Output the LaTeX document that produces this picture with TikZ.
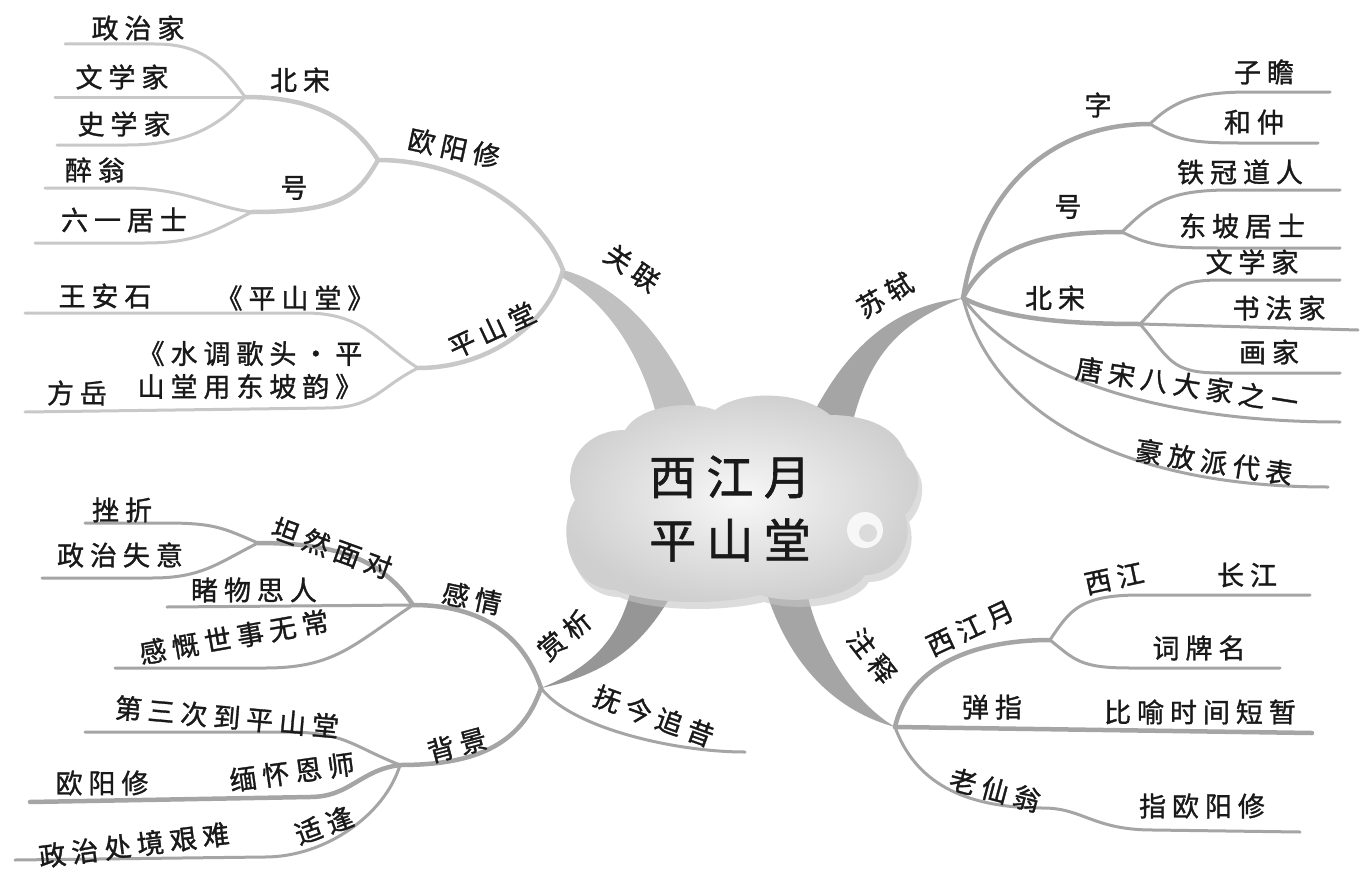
\documentclass[tikz,border=0pt]{standalone}
\usepackage{fontspec}
\newfontfamily\cjk[LetterSpace=22,FakeBold=1.2]{Noto Sans CJK SC}
\definecolor{lgray}{RGB}{200,200,200}
\definecolor{mgray}{RGB}{165,165,165}
\definecolor{tgray}{RGB}{192,192,192}
\definecolor{dgray}{RGB}{150,150,150}
\definecolor{ink}{RGB}{25,25,25}
\begin{document}
\begin{tikzpicture}[x=1pt,y=-1pt,
 lbl/.style={font=\cjk\fontsize{27}{33}\selectfont,text=ink,inner sep=0pt,align=center},
 big/.style={font=\cjk\fontsize{47}{52}\selectfont,text=ink,inner sep=0pt},
 leafL/.style={draw=lgray,line width=3pt,line cap=round},
 branchL/.style={draw=lgray,line width=4.5pt,line cap=round},
 leafM/.style={draw=mgray,line width=3pt,line cap=round},
 branchM/.style={draw=mgray,line width=4.5pt,line cap=round}]
\useasboundingbox (0,0) rectangle (1363,875);
\fill[white] (0,0) rectangle (1363,875);

% ---------- junctions ----------
\coordinate (jBS) at (245,97);
\coordinate (jHao) at (252,212);
\coordinate (jOY) at (378,160);
\coordinate (jGL) at (563,270);
\coordinate (jPS) at (418,368);
\coordinate (jSS) at (963,298);
\coordinate (jZi) at (1150,124);
\coordinate (jHao2) at (1122,232);
\coordinate (jBS2) at (1140,324);
\coordinate (jSX) at (541,688);
\coordinate (jGQ) at (413,605);
\coordinate (jTR) at (258,543);
\coordinate (jBJ) at (400,765);
\coordinate (jZS) at (895,727);
\coordinate (jXJY) at (1050,640);

% ---------- leaf ends ----------
\coordinate (eZZJ) at (65,44);
\coordinate (eWXJ) at (55,97);
\coordinate (eSXJ) at (57,145);
\coordinate (eZW) at (45,188);
\coordinate (eLY) at (35,243);
\coordinate (eWAS) at (25,313);
\coordinate (eFY) at (25,412);
\coordinate (eZZ) at (1330,92);
\coordinate (eHZ) at (1318,143);
\coordinate (eTG) at (1340,190);
\coordinate (eDP) at (1340,248);
\coordinate (eWX2) at (1340,280);
\coordinate (eSF) at (1358,330);
\coordinate (eHJ) at (1340,373);
\coordinate (eTS) at (1340,422);
\coordinate (eHF) at (1328,487);
\coordinate (eCZ) at (85,523);
\coordinate (eZZSY) at (42,578);
\coordinate (eDW) at (167,607);
\coordinate (eGK) at (115,668);
\coordinate (eFJ) at (745,752);
\coordinate (eDS) at (85,732);
\coordinate (eOY2) at (30,802);
\coordinate (eZZCJ) at (15,860);
\coordinate (eCJ) at (1310,595);
\coordinate (eCPM) at (1280,668);
\coordinate (eBZ) at (1312,733);
\coordinate (eZOY) at (1300,832);

% ---------- trunks ----------
\fill[tgray] (jGL) .. controls (620,285) and (672,340) .. (705,428)
  -- (660,430) .. controls (645,360) and (610,305) .. (563,278) -- cycle;
\fill[mgray] (810,420) .. controls (850,340) and (900,305) .. (jSS)
  .. controls (905,320) and (870,350) .. (852,425) -- cycle;
\fill[dgray] (632,585) .. controls (620,640) and (590,668) .. (jSX)
  .. controls (600,676) and (642,650) .. (674,590) -- cycle;
\fill[mgray] (765,588) .. controls (790,670) and (840,712) .. (jZS)
  .. controls (850,700) and (815,640) .. (805,583) -- cycle;

% ---------- top-left (关联) ----------
\draw[leafL] (eZZJ) -- ++(90,0) .. controls +(45,0) and +(-25,-35) .. (jBS);
\draw[leafL] (eWXJ) -- (jBS);
\draw[leafL] (eSXJ) -- ++(70,0) .. controls +(50,0) and +(-30,35) .. (jBS);
\draw[branchL] (jBS) .. controls +(70,0) and +(-25,-40) .. (jOY);
\draw[leafL] (eZW) -- ++(80,0) .. controls +(60,0) and +(-40,-5) .. (jHao);
\draw[leafL] (eLY) -- ++(110,0) .. controls +(50,0) and +(-40,20) .. (jHao);
\draw[branchL] (jHao) .. controls +(90,0) and +(-20,35) .. (jOY);
\draw[branchL] (jOY) .. controls +(90,0) and +(-20,-55) .. (jGL);
\draw[branchL] (jGL) .. controls +(-15,55) and +(70,0) .. (jPS);
\draw[leafL] (eWAS) -- ++(280,0) .. controls +(60,0) and +(-40,-25) .. (jPS);
\draw[leafL] (eFY) -- ++(300,-4) .. controls +(50,0) and +(-40,20) .. (jPS);

% ---------- top-right (苏轼) ----------
\draw[branchM] (jSS) .. controls +(20,-120) and +(-90,0) .. (jZi);
\draw[leafM] (eZZ) -- ++(-80,0) .. controls +(-50,0) and +(25,-25) .. (jZi);
\draw[leafM] (eHZ) -- ++(-80,0) .. controls +(-50,0) and +(25,15) .. (jZi);
\draw[branchM] (jSS) .. controls +(30,-60) and +(-60,0) .. (jHao2);
\draw[leafM] (eTG) -- ++(-110,0) .. controls +(-60,0) and +(30,-30) .. (jHao2);
\draw[leafM] (eDP) -- ++(-120,0) .. controls +(-50,0) and +(30,15) .. (jHao2);
\draw[branchM] (jSS) .. controls +(40,20) and +(-80,0) .. (jBS2);
\draw[leafM] (eWX2) -- ++(-120,0) .. controls +(-50,0) and +(30,-30) .. (jBS2);
\draw[leafM] (eSF) -- (jBS2);
\draw[leafM] (eHJ) -- ++(-120,0) .. controls +(-50,0) and +(30,35) .. (jBS2);
\draw[leafM] (jSS) .. controls +(50,70) and +(-200,0) .. (eTS);
\draw[leafM] (jSS) .. controls +(30,120) and +(-200,0) .. (eHF);

% ---------- bottom-left (赏析) ----------
\draw[branchM] (jSX) .. controls +(-20,-60) and +(60,0) .. (jGQ);
\draw[leafM] (eDW) -- (jGQ);
\draw[branchM] (jGQ) .. controls +(-30,-45) and +(80,0) .. (jTR);
\draw[leafM] (eCZ) -- ++(80,0) .. controls +(50,0) and +(-35,-15) .. (jTR);
\draw[leafM] (eZZSY) -- ++(110,0) .. controls +(50,0) and +(-40,20) .. (jTR);
\draw[leafM] (eGK) -- ++(150,0) .. controls +(70,0) and +(-60,40) .. (jGQ);
\draw[leafM] (jSX) .. controls +(30,40) and +(-70,0) .. (eFJ);
\draw[branchM] (jSX) .. controls +(-20,60) and +(70,0) .. (jBJ);
\draw[leafM] (eDS) -- ++(200,0) .. controls +(60,0) and +(-50,-20) .. (jBJ);
\draw[branchM] (eOY2) -- ++(280,-5) .. controls +(40,0) and +(-40,5) .. (jBJ);
\draw[leafM] (eZZCJ) -- ++(250,-3) .. controls +(60,0) and +(-15,50) .. (jBJ);

% ---------- bottom-right (注释) ----------
\draw[branchM] (jZS) .. controls +(15,-65) and +(-70,0) .. (jXJY);
\draw[leafM] (eCJ) -- ++(-170,0) .. controls +(-60,0) and +(20,-30) .. (jXJY);
\draw[leafM] (eCPM) -- ++(-150,0) .. controls +(-50,0) and +(25,20) .. (jXJY);
\draw[branchM] (jZS) -- (eBZ);
\draw[leafM] (jZS) .. controls +(20,55) and +(-80,0) .. ++(148,81)
  .. controls +(40,0) and +(-60,0) .. ++(110,22) -- (eZOY);

% ---------- cloud ----------
\fill[gray!45,opacity=0.6] (619,597) .. controls (574,597) and (559,537) .. (579,507)
  .. controls (564,477) and (584,437) .. (629,437)
  .. controls (644,412) and (694,407) .. (719,417)
  .. controls (744,397) and (804,397) .. (834,422)
  .. controls (874,422) and (904,437) .. (909,462)
  .. controls (929,477) and (924,507) .. (909,522)
  .. controls (919,552) and (899,582) .. (869,582)
  .. controls (854,607) and (794,612) .. (764,602)
  .. controls (724,612) and (654,612) .. (619,597) -- cycle;
\shade[inner color=gray!6, outer color=gray!38] (615,590) .. controls (570,590) and (555,530) .. (575,500)
  .. controls (560,470) and (580,430) .. (625,430)
  .. controls (640,405) and (690,400) .. (715,410)
  .. controls (740,390) and (800,390) .. (830,415)
  .. controls (870,415) and (900,430) .. (905,455)
  .. controls (925,470) and (920,500) .. (905,515)
  .. controls (915,545) and (895,575) .. (865,575)
  .. controls (850,600) and (790,605) .. (760,595)
  .. controls (720,605) and (650,605) .. (615,590) -- cycle;
\fill[white!94!gray] (865,530) circle (18);
\fill[gray!28] (868,533) circle (9);

\node[big] (c1) at (730,477) {西江月};
\node[big] (c2) at (730,540) {平山堂};

% ---------- labels top-left ----------
\node[lbl] (tZZJ) at (138,28) {政治家};
\node[lbl] (tWXJ) at (122,77) {文学家};
\node[lbl] (tSXJ) at (124,124) {史学家};
\node[lbl] (tBS) at (300,80) {北宋};
\node[lbl] (tZW) at (95,170) {醉翁};
\node[lbl] (tHao) at (294,188) {号};
\node[lbl] (tLY) at (124,220) {六一居士};
\node[lbl,rotate=-12] (tOY) at (454,148) {欧阳修};
\node[lbl,rotate=-35] (tGL) at (632,268) {关联};
\node[lbl] (tWAS) at (105,296) {王安石};
\node[lbl] (tPSTb) at (295,298) {《平山堂》};
\node[lbl,rotate=25] (tPST) at (492,330) {平山堂};
\node[lbl] (tSD) at (250,370) {《水调歌头·平\\山堂用东坡韵》};
\node[lbl] (tFY) at (77,393) {方岳};

% ---------- labels top-right ----------
\node[lbl,rotate=30] (tSS) at (885,295) {苏轼};
\node[lbl] (tZi) at (1098,105) {字};
\node[lbl] (tZZ) at (1264,72) {子瞻};
\node[lbl] (tHZ) at (1254,122) {和仲};
\node[lbl] (tHao2) at (1068,207) {号};
\node[lbl] (tTG) at (1240,172) {铁冠道人};
\node[lbl] (tDP) at (1242,226) {东坡居士};
\node[lbl] (tBS2) at (1055,298) {北宋};
\node[lbl] (tWX2) at (1252,262) {文学家};
\node[lbl] (tSF) at (1279,308) {书法家};
\node[lbl] (tHJ) at (1269,352) {画家};
\node[lbl,rotate=-9] (tTS) at (1187,385) {唐宋八大家之一};
\node[lbl,rotate=-9] (tHF) at (1214,462) {豪放派代表};

% ---------- labels bottom-left ----------
\node[lbl,rotate=40] (tSX) at (564,635) {赏析};
\node[lbl] (tCZ) at (122,510) {挫折};
\node[lbl] (tZZSY) at (120,555) {政治失意};
\node[lbl,rotate=-20] (tTR) at (332,548) {坦然面对};
\node[lbl] (tDW) at (254,590) {睹物思人};
\node[lbl,rotate=10] (tGK) at (234,637) {感慨世事无常};
\node[lbl,rotate=-12] (tGQ) at (472,598) {感情};
\node[lbl,rotate=-20] (tFJ) at (654,716) {抚今追昔};
\node[lbl,rotate=-5] (tDS) at (227,717) {第三次到平山堂};
\node[lbl,rotate=15] (tBJ) at (457,745) {背景};
\node[lbl] (tOY2) at (102,783) {欧阳修};
\node[lbl,rotate=8] (tMH) at (292,772) {缅怀恩师};
\node[lbl,rotate=20] (tSF2) at (324,825) {适逢};
\node[lbl,rotate=7] (tZZCJ) at (134,845) {政治处境艰难};

% ---------- labels bottom-right ----------
\node[lbl,rotate=-52] (tZS) at (872,656) {注释};
\node[lbl,rotate=25] (tXJY) at (970,628) {西江月};
\node[lbl,rotate=12] (tXJ) at (1114,578) {西江};
\node[lbl] (tCJ) at (1247,575) {长江};
\node[lbl] (tCPM) at (1199,648) {词牌名};
\node[lbl] (tBZ) at (992,707) {弹指};
\node[lbl] (tBY) at (1200,712) {比喻时间短暂};
\node[lbl,rotate=-15] (tLXW) at (995,790) {老仙翁};
\node[lbl] (tZOY) at (1202,806) {指欧阳修};
\end{tikzpicture}
\end{document}
